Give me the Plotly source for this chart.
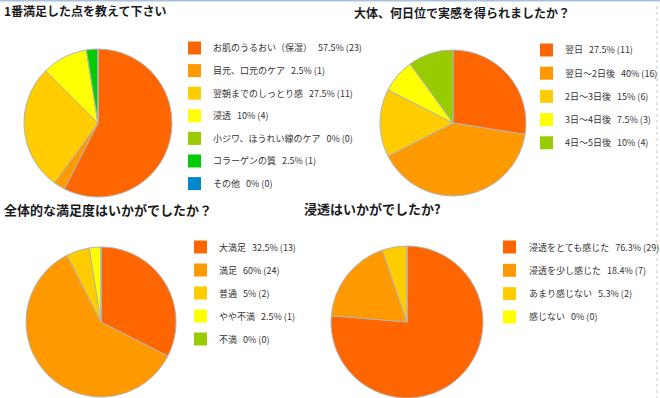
import plotly.graph_objects as go

W, H = 660, 398

# ---------------- data ----------------
q1_title = "1番満足した点を教えて下さい"
q1_labels = ["お肌のうるおい（保湿）", "目元、口元のケア", "翌朝までのしっとり感", "浸透",
             "小ジワ、ほうれい線のケア", "コラーゲンの質", "その他"]
q1_counts = [23, 1, 11, 4, 0, 1, 0]

q2_title = "大体、何日位で実感を得られましたか？"
q2_labels = ["翌日", "翌日～2日後", "2日～3日後", "3日～4日後", "4日～5日後"]
q2_counts = [11, 16, 6, 3, 4]

q3_title = "全体的な満足度はいかがでしたか？"
q3_labels = ["大満足", "満足", "普通", "やや不満", "不満"]
q3_counts = [13, 24, 2, 1, 0]

q4_title = "浸透はいかがでしたか?"
q4_labels = ["浸透をとても感じた", "浸透を少し感じた", "あまり感じない", "感じない"]
q4_counts = [29, 7, 2, 0]

palette = ["#FF6600", "#FF9900", "#FFCC00", "#FFFF00", "#99CC00", "#00CC00", "#0088CC"]

# ---------------- layout config (pixels) ----------------
charts = [
    dict(title=q1_title, labels=q1_labels, counts=q1_counts,
         cx=98, cy=123, r=74, tx=2, ty=11, tsize=12,
         sw=188, txt=211, ly=48, step=22.6),
    dict(title=q2_title, labels=q2_labels, counts=q2_counts,
         cx=453, cy=123, r=73, tx=352, ty=13, tsize=12,
         sw=540, txt=563, ly=50, step=23.2),
    dict(title=q3_title, labels=q3_labels, counts=q3_counts,
         cx=101, cy=322, r=75, tx=2, ty=210, tsize=13,
         sw=194, txt=217, ly=247, step=23),
    dict(title=q4_title, labels=q4_labels, counts=q4_counts,
         cx=407, cy=322, r=76, tx=302, ty=208, tsize=13,
         sw=503, txt=527, ly=247, step=23.3),
]

FONT = "Noto Sans CJK JP"

def px(x):
    return x / W

def py(y):
    return 1 - y / H

def fmt_pct(c, total):
    p = round(100.0 * c / total, 1)
    return f"{p:g}%"

fig = go.Figure()
annotations = []
shapes = []

for ch in charts:
    n = len(ch["labels"])
    cols = palette[:n]
    cx, cy, r = ch["cx"], ch["cy"], ch["r"]
    fig.add_trace(go.Pie(
        labels=ch["labels"], values=ch["counts"],
        marker=dict(colors=cols, line=dict(color="#b4b4b4", width=1)),
        sort=False, direction="clockwise", rotation=0,
        textinfo="none", hoverinfo="label+value+percent",
        showlegend=False,
        domain=dict(x=[px(cx - r), px(cx + r)],
                    y=[max(0, py(cy + r)), min(1, py(cy - r))]),
    ))
    # title
    annotations.append(dict(
        text=f"<b>{ch['title']}</b>", x=px(ch["tx"]), y=py(ch["ty"]),
        xref="paper", yref="paper", xanchor="left", yanchor="middle",
        showarrow=False, font=dict(family=FONT, size=ch["tsize"], color="#1a1a1a"),
    ))
    # legend
    total = sum(ch["counts"])
    for i, (lab, c) in enumerate(zip(ch["labels"], ch["counts"])):
        yc = ch["ly"] + i * ch["step"]
        shapes.append(dict(
            type="rect", xref="paper", yref="paper",
            x0=px(ch["sw"]), x1=px(ch["sw"] + 13),
            y0=py(yc - 6.5), y1=py(yc + 6.5),
            fillcolor=cols[i], line=dict(width=0),
        ))
        annotations.append(dict(
            text=f"{lab}\u00a0\u00a0\u00a0{fmt_pct(c, total)} ({c})",
            x=px(ch["txt"]), y=py(yc),
            xref="paper", yref="paper", xanchor="left", yanchor="middle",
            showarrow=False, font=dict(family=FONT, size=9, color="#333333"),
        ))

# decorative frame lines
shapes.append(dict(type="line", xref="paper", yref="paper", x0=0, x1=1,
                   y0=py(0.5), y1=py(0.5), line=dict(color="#a9c1dc", width=2)))
shapes.append(dict(type="line", xref="paper", yref="paper", x0=px(657), x1=px(657),
                   y0=py(6), y1=0, line=dict(color="#c8c8c8", width=1, dash="dot")))

fig.update_layout(
    width=W, height=H,
    margin=dict(l=0, r=0, t=0, b=0),
    paper_bgcolor="white", plot_bgcolor="white",
    annotations=annotations, shapes=shapes,
    showlegend=False,
)

fig.write_html("out.html")
